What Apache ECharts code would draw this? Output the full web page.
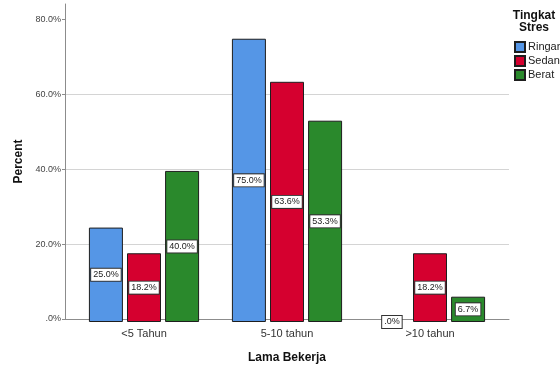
<!DOCTYPE html>
<html>
<head>
<meta charset="utf-8">
<script src="https://cdn.jsdelivr.net/npm/echarts@6/dist/echarts.min.js"></script>
<style>
  html, body { margin: 0; padding: 0; background: #fff; }
  #chart { width: 560px; height: 369px; }
</style>
</head>
<body>
<div id="chart"></div>
<script>
// Lama Bekerja vs Tingkat Stres (percent within group)
const categories = ['<5 Tahun', '5-10 tahun', '>10 tahun'];
const ringan = [25.0, 75.0, 0.0];
const sedang = [18.2, 63.6, 18.2];
const berat = [40.0, 53.3, 6.7];
const yTicks = [0, 20, 40, 60, 80];
const seriesNames = ['Ringan', 'Sedang', 'Berat'];
const seriesColors = ['#5596e6', '#d5002f', '#2a892c'];

const FONT = '"Liberation Sans", Arial, sans-serif';
const yMax = 84.2;
const plotTop = 4;
const plotHeight = 318;

function pct(v) {
  return v.toFixed(1).replace(/^0/, '') + '%';
}

const values = [ringan, sedang, berat];

const series = seriesNames.map((name, i) => ({
  name: name,
  type: 'bar',
  xAxisIndex: 1,
  yAxisIndex: 1,
  // zero-height bars keep their label but draw no outline
  data: values[i].map(v => v === 0 ? { value: v, itemStyle: { borderWidth: 0 } } : v),
  barWidth: 34,
  barGap: '12%',
  itemStyle: { color: seriesColors[i], borderColor: '#1e1e1e', borderWidth: 1 },
  label: {
    show: true,
    position: 'inside',
    formatter: p => pct(p.value),
    fontFamily: FONT,
    fontSize: 9,
    color: '#222',
    backgroundColor: '#fff',
    borderColor: '#333',
    borderWidth: 1,
    padding: [2, 2, 1, 2]
  },
  emphasis: { disabled: true }
}));

const option = {
  animation: false,
  backgroundColor: '#fff',
  textStyle: { fontFamily: FONT },
  title: {
    text: 'Tingkat\nStres',
    left: 534,
    top: 10,
    padding: 0,
    textAlign: 'center',
    textStyle: { fontFamily: FONT, fontSize: 12, fontWeight: 'bold', color: '#111', lineHeight: 12 }
  },
  legend: {
    orient: 'vertical',
    left: 514,
    top: 41,
    padding: 0,
    itemWidth: 10,
    itemHeight: 10,
    itemGap: 2,
    icon: 'rect',
    data: seriesNames,
    textStyle: { fontFamily: FONT, fontSize: 11, color: '#222', padding: [0, 0, 0, -2] }
  },
  grid: [
    { left: 65, top: plotTop, width: 444, height: plotHeight },
    { left: 72.5, top: plotTop, width: 429, height: plotHeight }
  ],
  xAxis: [
    {
      gridIndex: 0,
      type: 'value',
      min: 0,
      max: 1,
      axisLine: { show: true, lineStyle: { color: '#8c8c8c', width: 1 } },
      axisTick: { show: false },
      axisLabel: { show: false },
      splitLine: { show: false },
      name: 'Lama Bekerja',
      nameLocation: 'middle',
      nameGap: 33,
      nameTextStyle: { fontFamily: FONT, fontSize: 12, fontWeight: 'bold', color: '#111' }
    },
    {
      gridIndex: 1,
      type: 'category',
      data: categories,
      axisLine: { show: false },
      axisTick: { show: false },
      axisLabel: { fontFamily: FONT, fontSize: 11, color: '#333', margin: 6 }
    }
  ],
  yAxis: [
    {
      gridIndex: 0,
      type: 'value',
      min: 0,
      max: yMax,
      name: 'Percent',
      nameLocation: 'middle',
      nameGap: 40,
      nameTextStyle: { fontFamily: FONT, fontSize: 12, fontWeight: 'bold', color: '#111' },
      axisLine: { show: true, lineStyle: { color: '#8c8c8c', width: 1 } },
      axisTick: {
        show: true,
        length: 3,
        customValues: yTicks,
        lineStyle: { color: '#8c8c8c' }
      },
      axisLabel: {
        customValues: yTicks,
        formatter: v => pct(v),
        fontFamily: FONT,
        fontSize: 9,
        color: '#444',
        margin: 4
      },
      splitLine: {
        show: true,
        showMinLine: false,
        showMaxLine: false,
        lineStyle: { color: '#d4d4d4', width: 1 }
      },
      interval: 20
    },
    {
      gridIndex: 1,
      type: 'value',
      min: 0,
      max: yMax,
      show: false
    }
  ],
  series: series
};

const chart = echarts.init(document.getElementById('chart'), null, { renderer: 'canvas' });
chart.setOption(option);
</script>
</body>
</html>
